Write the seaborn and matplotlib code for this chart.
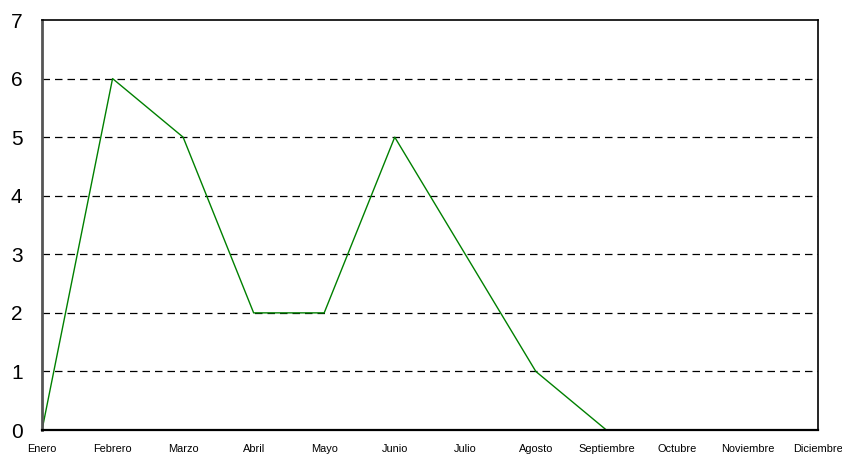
import matplotlib
matplotlib.use("Agg")
import matplotlib.pyplot as plt
import seaborn as sns
import pandas as pd

meses = ["Enero", "Febrero", "Marzo", "Abril", "Mayo", "Junio", "Julio",
         "Agosto", "Septiembre", "Octubre", "Noviembre", "Diciembre"]
valores = [0, 6, 5, 2, 2, 5, 3, 1, 0, 0, 0, 0]
yticks = [0, 1, 2, 3, 4, 5, 6, 7]

sns.set_style("white")
plt.rcParams["font.family"] = ["Liberation Sans", "DejaVu Sans"]

df = pd.DataFrame({"mes": meses, "valor": valores})

fig = plt.figure(figsize=(8.42, 4.58), dpi=100)
ax = fig.add_axes([0.0499, 0.0611, 0.9216, 0.8952])

sns.lineplot(data=df, x="mes", y="valor", sort=False, color="#008000",
             linewidth=1.0, ax=ax, zorder=2)

ax.set_xlim(0, len(meses) - 1)
ax.set_ylim(0, 7)
ax.set_yticks(yticks)
ax.set_yticklabels([str(t) for t in yticks], fontsize=15, color="black")
ax.set_xticks(range(len(meses)))
ax.set_xticklabels(meses, fontsize=7.9, color="black")
ax.tick_params(axis="both", length=0)
ax.tick_params(axis="y", pad=14)
ax.tick_params(axis="x", pad=10)
ax.set_xlabel("")
ax.set_ylabel("")

for y in yticks[1:-1]:
    ax.axhline(y, color="black", linestyle=(0, (6, 4)), linewidth=0.9, zorder=1)

for side in ["top", "right", "bottom"]:
    ax.spines[side].set_color("black")
    ax.spines[side].set_linewidth(1.2)
    ax.spines[side].set_zorder(3)
ax.spines["left"].set_color("#555555")
ax.spines["left"].set_linewidth(2)
ax.spines["left"].set_zorder(3)
ax.spines["bottom"].set_linewidth(1.6)

fig.savefig("out.png", dpi=100)
